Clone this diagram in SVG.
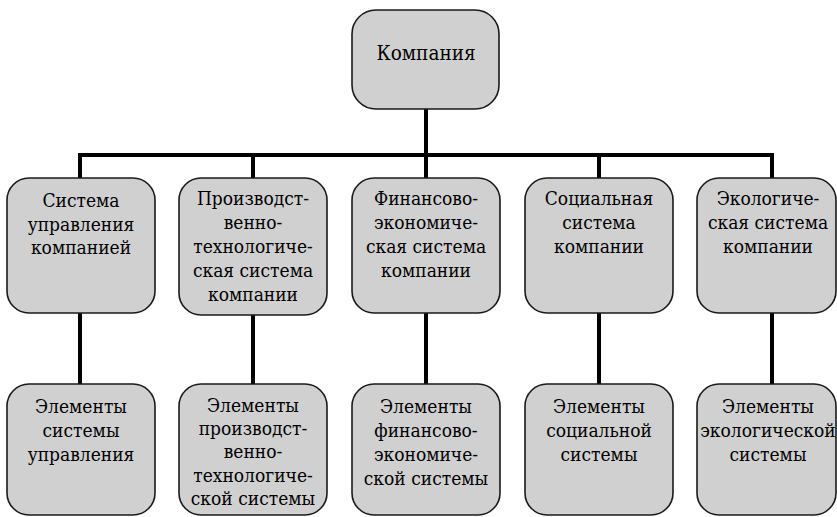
<svg xmlns="http://www.w3.org/2000/svg" width="837" height="517" viewBox="0 0 837 517">
  <style>
    .box { fill: #d0d0d0; stroke: #1a1a1a; stroke-width: 1.6; }
    .lbl { font-family: 'DejaVu Serif Condensed', 'DejaVu Serif', serif; font-stretch: condensed; font-size: 19px; fill: #000; text-anchor: middle; }
    .root { font-size: 20.5px; }
    .wire { stroke: #000; stroke-width: 4; fill: none; }
  </style>
  <rect width="837" height="517" fill="#ffffff"/>

  <!-- connectors -->
  <g id="connectors">
    <line class="wire" x1="426" y1="109" x2="426" y2="155"/>
    <line class="wire" x1="78" y1="155" x2="774" y2="155"/>
    <line class="wire" x1="80" y1="155" x2="80" y2="178"/>
    <line class="wire" x1="253" y1="155" x2="253" y2="178"/>
    <line class="wire" x1="426" y1="155" x2="426" y2="178"/>
    <line class="wire" x1="599" y1="155" x2="599" y2="178"/>
    <line class="wire" x1="772" y1="155" x2="772" y2="178"/>
    <line class="wire" x1="80" y1="313" x2="80" y2="384"/>
    <line class="wire" x1="253" y1="315" x2="253" y2="384"/>
    <line class="wire" x1="426" y1="313" x2="426" y2="384"/>
    <line class="wire" x1="599" y1="313" x2="599" y2="384"/>
    <line class="wire" x1="772" y1="313" x2="772" y2="384"/>
  </g>

  <!-- root -->
  <g id="company">
    <rect class="box" x="352" y="10" width="147" height="99" rx="24"/>
    <text class="lbl root" x="426" y="60">Компания</text>
  </g>

  <!-- second level -->
  <g id="management-system">
    <rect class="box" x="7" y="178" width="148" height="135" rx="22"/>
    <text class="lbl" x="81" y="207">Система</text>
    <text class="lbl" x="81" y="231">управления</text>
    <text class="lbl" x="81" y="254">компанией</text>
  </g>
  <g id="production-system">
    <rect class="box" x="179" y="178" width="148" height="137" rx="22"/>
    <text class="lbl" x="253" y="205">Производст-</text>
    <text class="lbl" x="253" y="229">венно-</text>
    <text class="lbl" x="253" y="253">технологиче-</text>
    <text class="lbl" x="253" y="277">ская система</text>
    <text class="lbl" x="253" y="301">компании</text>
  </g>
  <g id="finance-system">
    <rect class="box" x="352" y="178" width="148" height="135" rx="22"/>
    <text class="lbl" x="426" y="205">Финансово-</text>
    <text class="lbl" x="426" y="229">экономиче-</text>
    <text class="lbl" x="426" y="253">ская система</text>
    <text class="lbl" x="426" y="277">компании</text>
  </g>
  <g id="social-system">
    <rect class="box" x="525" y="178" width="148" height="135" rx="22"/>
    <text class="lbl" x="599" y="205">Социальная</text>
    <text class="lbl" x="599" y="229">система</text>
    <text class="lbl" x="599" y="253">компании</text>
  </g>
  <g id="ecology-system">
    <rect class="box" x="697" y="178" width="139" height="135" rx="22"/>
    <text class="lbl" x="768" y="205">Экологиче-</text>
    <text class="lbl" x="768" y="229">ская система</text>
    <text class="lbl" x="768" y="253">компании</text>
  </g>

  <!-- third level -->
  <g id="management-elements">
    <rect class="box" x="7" y="384" width="148" height="131" rx="22"/>
    <text class="lbl" x="81" y="413">Элементы</text>
    <text class="lbl" x="81" y="437">системы</text>
    <text class="lbl" x="81" y="461">управления</text>
  </g>
  <g id="production-elements">
    <rect class="box" x="179" y="384" width="148" height="131" rx="22"/>
    <text class="lbl" x="253" y="412">Элементы</text>
    <text class="lbl" x="253" y="435">производст-</text>
    <text class="lbl" x="253" y="458">венно-</text>
    <text class="lbl" x="253" y="482">технологиче-</text>
    <text class="lbl" x="253" y="505">ской системы</text>
  </g>
  <g id="finance-elements">
    <rect class="box" x="352" y="384" width="148" height="131" rx="22"/>
    <text class="lbl" x="426" y="413">Элементы</text>
    <text class="lbl" x="426" y="437">финансово-</text>
    <text class="lbl" x="426" y="461">экономиче-</text>
    <text class="lbl" x="426" y="485">ской системы</text>
  </g>
  <g id="social-elements">
    <rect class="box" x="525" y="384" width="148" height="131" rx="22"/>
    <text class="lbl" x="599" y="413">Элементы</text>
    <text class="lbl" x="599" y="437">социальной</text>
    <text class="lbl" x="599" y="461">системы</text>
  </g>
  <g id="ecology-elements">
    <rect class="box" x="697" y="384" width="139" height="131" rx="22"/>
    <text class="lbl" x="768" y="413">Элементы</text>
    <text class="lbl" x="768" y="437">экологической</text>
    <text class="lbl" x="768" y="461">системы</text>
  </g>
</svg>
